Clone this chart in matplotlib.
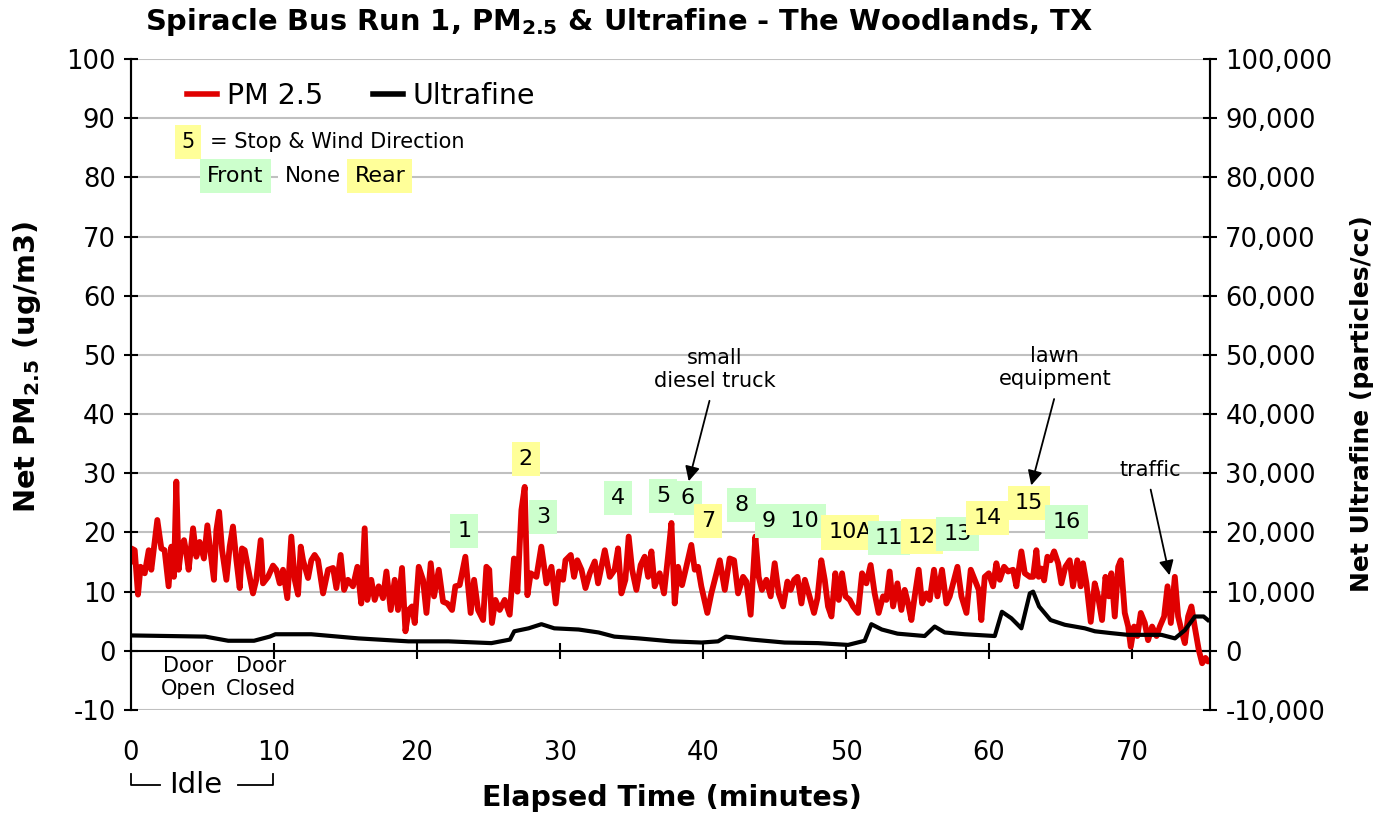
import matplotlib
matplotlib.use("Agg")
import matplotlib.pyplot as plt
from matplotlib.ticker import FuncFormatter
from matplotlib.lines import Line2D

plt.rcParams['font.family'] = ['DejaVu Sans']
plt.rcParams['mathtext.fontset'] = 'dejavusans'
plt.rcParams['axes.unicode_minus'] = False

# ---------------- data ----------------
pm_time = [0.0, 0.02, 0.26, 0.49, 0.67, 0.96, 1.24, 1.42, 1.84, 2.12, 2.35, 2.63, 2.82, 3.0, 3.17,
           3.33, 3.52, 3.71, 3.87, 4.03, 4.34, 4.57, 4.8, 5.1, 5.34, 5.57, 5.8, 5.97, 6.16, 6.37,
           6.67, 6.9, 7.13, 7.37, 7.6, 7.76, 7.95, 8.3, 8.53, 8.76, 9.07, 9.23, 9.58, 9.93, 10.16,
           10.4, 10.63, 10.93, 11.21, 11.45, 11.68, 11.87, 12.03, 12.38, 12.61, 12.84, 13.08, 13.43,
           13.78, 14.13, 14.36, 14.66, 14.9, 15.17, 15.52, 15.83, 16.1, 16.34, 16.52, 16.8, 17.04,
           17.32, 17.62, 17.86, 18.16, 18.44, 18.67, 18.95, 19.19, 19.42, 19.65, 19.84, 20.12, 20.42,
           20.66, 20.96, 21.19, 21.52, 21.82, 22.12, 22.45, 22.68, 22.98, 23.38, 23.75, 23.99, 24.27,
           24.62, 24.85, 25.05, 25.24, 25.48, 25.78, 26.13, 26.48, 26.78, 27.02, 27.3, 27.53, 27.72,
           27.95, 28.35, 28.69, 29.05, 29.4, 29.7, 29.93, 30.21, 30.38, 30.75, 30.98, 31.21, 31.5,
           31.78, 32.08, 32.43, 32.66, 33.13, 33.48, 33.82, 34.06, 34.29, 34.57, 34.8, 35.04, 35.34,
           35.64, 35.92, 36.16, 36.39, 36.62, 36.97, 37.27, 37.55, 37.79, 38.02, 38.25, 38.53, 38.83,
           39.18, 39.42, 39.65, 39.88, 40.3, 40.58, 40.82, 41.17, 41.52, 41.86, 42.17, 42.45, 42.8,
           43.03, 43.33, 43.66, 43.89, 44.12, 44.43, 44.73, 45.01, 45.29, 45.6, 45.9, 46.13, 46.37,
           46.6, 46.88, 47.12, 47.39, 47.76, 48.0, 48.27, 48.51, 48.74, 48.98, 49.25, 49.49, 49.72,
           49.96, 50.26, 50.49, 50.84, 51.12, 51.42, 51.72, 52.0, 52.28, 52.59, 52.82, 53.05, 53.29,
           53.59, 53.87, 54.1, 54.34, 54.57, 54.8, 55.08, 55.32, 55.62, 55.85, 56.15, 56.39, 56.71,
           57.02, 57.25, 57.55, 57.79, 58.07, 58.42, 58.72, 59.0, 59.28, 59.46, 59.7, 59.98, 60.28,
           60.51, 60.75, 61.05, 61.33, 61.68, 61.91, 62.26, 62.5, 62.85, 63.08, 63.31, 63.47, 63.66,
           63.85, 64.08, 64.31, 64.55, 64.83, 65.06, 65.34, 65.64, 65.87, 66.17, 66.41, 66.57, 66.81,
           67.11, 67.39, 67.62, 67.9, 68.14, 68.37, 68.55, 68.79, 69.03, 69.21, 69.49, 69.73, 69.91,
           70.14, 70.37, 70.61, 70.89, 71.12, 71.4, 71.71, 71.94, 72.24, 72.48, 72.71, 72.99, 73.22,
           73.5, 73.69, 73.92, 74.15, 74.38, 74.66, 74.9, 75.13, 75.31]
pm_value = [15.0, 17.3, 17.0, 9.5, 14.2, 13.1, 17.0, 13.7, 22.1, 17.3, 17.0, 10.9, 17.6, 12.5, 28.6,
            13.7, 17.6, 18.7, 16.5, 13.7, 20.7, 15.9, 18.4, 15.6, 21.2, 16.5, 12.0, 20.4, 23.5, 17.0,
            12.0, 17.6, 21.0, 15.3, 10.6, 17.3, 17.0, 12.5, 9.7, 12.0, 18.7, 11.4, 12.5, 14.4, 13.7,
            11.4, 13.7, 8.9, 19.3, 12.0, 9.5, 17.6, 15.3, 12.3, 15.3, 16.2, 15.3, 9.7,
            13.7, 14.0, 10.6, 16.2, 10.3, 12.0, 10.9, 14.2, 8.0, 20.7, 8.6, 12.0, 8.6,
            10.9, 8.9, 13.4, 6.9, 12.0, 6.9, 14.0, 3.3, 6.9, 7.5, 4.7, 14.2, 12.0,
            6.4, 14.8, 9.2, 13.7, 8.3, 8.0, 6.9, 10.9, 11.1, 15.9, 6.4, 12.0, 6.9,
            5.2, 14.2, 13.7, 4.7, 8.6, 6.9, 8.6, 6.1, 15.6, 10.0, 23.8, 27.7, 9.4,
            13.1, 12.5, 17.6, 11.4, 14.2, 8.0, 13.4, 12.0, 15.3, 16.2, 12.5, 15.3, 13.7,
            10.6, 13.1, 15.1, 11.4, 17.0, 12.5, 13.7, 17.3, 9.7, 12.0, 19.3, 13.7, 10.3,
            14.5, 15.9, 12.5, 16.8, 10.9, 13.1, 9.7, 15.9, 21.6, 8.0, 14.2, 11.1, 14.2,
            17.9, 13.7, 14.2, 10.9, 6.4, 9.7, 12.0, 15.3, 10.3, 15.6, 15.3, 9.7, 12.5,
            11.7, 6.1, 19.3, 12.5, 10.3, 12.0, 9.2, 14.8, 9.7, 7.5, 11.7, 10.3, 12.0,
            12.5, 8.0, 12.0, 9.7, 6.4, 8.9, 15.3, 12.0, 7.5, 5.8, 13.1, 8.6, 13.1,
            9.2, 8.6, 7.5, 6.4, 13.1, 11.4, 14.5, 9.7, 6.4, 9.2, 8.6, 13.4, 7.5,
            11.4, 6.9, 10.3, 8.0, 5.2, 9.2, 13.7, 8.0, 9.7, 8.6, 13.7, 9.2, 13.7,
            8.0, 9.2, 12.0, 14.2, 9.2, 6.4, 13.7, 12.0, 10.3, 5.2, 12.5, 13.1, 10.9,
            14.8, 12.0, 14.2, 13.4, 13.7, 10.9, 16.8, 13.1, 12.5, 12.5, 17.0, 12.5, 13.9,
            11.9, 15.9, 15.3, 16.8, 14.8, 11.4, 14.2, 15.3, 10.9, 15.3, 10.9, 14.8, 11.4,
            4.9, 11.4, 9.2, 5.2, 12.5, 9.2, 13.1, 5.8, 14.2, 15.3, 6.4, 4.1, 0.7,
            4.1, 2.5, 6.4, 4.7, 1.8, 4.1, 2.5, 4.1, 5.8, 10.9, 4.7, 12.5, 5.8,
            3.0, 1.3, 5.8, 7.5, 4.1, 0.2, -2.1, -1.2, -1.8]

uf_time = [0.0, 5.2, 6.8, 8.6, 9.7, 10.1, 12.6, 15.9, 19.4, 22.2, 25.2, 26.5, 26.8, 27.8, 28.7,
           29.6, 31.3, 32.7, 33.8, 35.5, 37.8, 39.9, 41.05, 41.6, 43.4, 45.7, 48.05, 50.14, 51.3,
           51.77, 52.5, 53.6, 55.5, 56.2, 56.9, 58.3, 60.4, 60.9, 61.56, 62.26, 62.85, 63.08, 63.5,
           64.3, 65.3, 66.7, 67.4, 68.5, 69.7, 72.05, 73.0, 73.7, 74.4, 75.0, 75.3]
uf_value = [2600, 2400, 1700, 1700, 2400, 2800, 2800, 2100, 1600, 1600, 1300, 1900, 3300, 3800, 4500,
            3800, 3600, 3100, 2400, 2100, 1600, 1400, 1600, 2400, 1900, 1400, 1300, 1000, 1700,
            4500, 3600, 2900, 2500, 4100, 3100, 2800, 2500, 6600, 5500, 3800, 9700, 10000, 7500,
            5200, 4400, 3800, 3300, 3000, 2700, 2700, 2100, 3500, 5800, 5800, 5200]

stop_labels = ['1', '2', '3', '4', '5', '6', '7', '8', '9  10', '10A', '11', '12', '13', '14', '15', '16']
stop_wind = ['F', 'R', 'F', 'F', 'F', 'F', 'R', 'F', 'F', 'R', 'F', 'R', 'F', 'R', 'R', 'F']
stop_time = [23.3, 27.6, 28.8, 34.06, 37.2, 38.95, 40.35, 42.7, 46.1, 50.3, 53.0, 55.3, 57.8, 59.9, 62.8, 65.4]
stop_level = [20.3, 32.4, 22.6, 25.8, 26.2, 25.8, 22.0, 24.7, 22.0, 20.0, 19.1, 19.3, 19.8, 22.5, 25.0, 21.8]

x_ticks = [0, 10, 20, 30, 40, 50, 60, 70]
y_ticks = [-10, 0, 10, 20, 30, 40, 50, 60, 70, 80, 90, 100]
y2_ticks = [-10000, 0, 10000, 20000, 30000, 40000, 50000, 60000, 70000, 80000, 90000, 100000]

# ---------------- style ----------------
RED = '#e00000'
GREEN = '#ccffcc'
YELLOW = '#ffff99'
GRID = '#c0c0c0'
W, H = 1382, 814

fig = plt.figure(figsize=(W / 100, H / 100), dpi=100)
ax = fig.add_axes([131 / W, 1 - 710 / H, (1210 - 131) / W, (710 - 59) / H])
ax2 = ax.twinx()

ax.plot(pm_time, pm_value, color=RED, lw=4.2, solid_joinstyle='round', solid_capstyle='round', zorder=3)
ax2.plot(uf_time, uf_value, color='black', lw=3.0, solid_joinstyle='round', zorder=3)

ax.set_xlim(0, 75.45)
ax.set_ylim(-10, 100)
ax2.set_ylim(-10000, 100000)

ax.set_yticks(y_ticks)
ax2.set_yticks(y2_ticks)
ax.set_xticks(x_ticks)
ax2.yaxis.set_major_formatter(FuncFormatter(lambda v, p: f"{int(v):,}"))

ax.yaxis.grid(True, color=GRID, lw=1.5)
ax.set_axisbelow(True)

for a in (ax, ax2):
    a.spines['top'].set_visible(False)
    a.spines['bottom'].set_visible(False)
    a.spines['left'].set_linewidth(1.5)
    a.spines['right'].set_linewidth(1.5)

ax.spines['bottom'].set_visible(True)
ax.spines['bottom'].set_position(('data', 0))
ax.spines['bottom'].set_linewidth(1.5)

TICK_FS = 18.5
ax.tick_params(axis='x', direction='inout', length=12, width=1.5, labelsize=TICK_FS, pad=58)
ax.tick_params(axis='y', direction='inout', length=10, width=1.5, labelsize=TICK_FS, pad=6)
ax2.tick_params(axis='y', direction='inout', length=10, width=1.5, labelsize=TICK_FS, pad=6)

# ---------------- texts ----------------
fig.text(619 / W, 1 - 22 / H,
         r'Spiracle Bus Run 1, PM$_{\mathbf{2.5}}$ & Ultrafine - The Woodlands, TX',
         ha='center', va='center', fontsize=20.8, fontweight='bold')
fig.text(27 / W, 1 - 367 / H, r'Net PM$_{\mathbf{2.5}}$ (ug/m3)', rotation=90,
         ha='center', va='center', fontsize=20.8, fontweight='bold')
fig.text(1362 / W, 1 - 404 / H, 'Net Ultrafine (particles/cc)', rotation=90,
         ha='center', va='center', fontsize=18, fontweight='bold')
fig.text(672 / W, 1 - 798 / H, 'Elapsed Time (minutes)',
         ha='center', va='center', fontsize=20.5, fontweight='bold')

# legend
handles = [Line2D([], [], color=RED, lw=4.0), Line2D([], [], color='black', lw=4.0)]
ax2.legend(handles, ['PM 2.5', 'Ultrafine'], loc='upper left', bbox_to_anchor=(0.028, 1.004),
           ncol=2, frameon=False, fontsize=20.5, handlelength=1.05, handletextpad=0.35,
           columnspacing=1.75)

# wind-direction key
def tag(x, y, s, fc, fs=15, ha='center'):
    ax.text(x, y, s, ha=ha, va='center', fontsize=fs, zorder=6,
            bbox=dict(boxstyle='square,pad=0.32', fc=fc, ec='none'))

tag(4.0, 86.0, '5', YELLOW, fs=15)
ax.text(5.5, 86.0, '= Stop & Wind Direction', ha='left', va='center', fontsize=15, zorder=6)
tag(7.3, 80.2, 'Front', GREEN, fs=16)
tag(12.7, 80.2, 'None', 'white', fs=15.5)
tag(17.4, 80.2, 'Rear', YELLOW, fs=16)

for lab, w, t, lv in zip(stop_labels, stop_wind, stop_time, stop_level):
    tag(t, lv, lab, GREEN if w == 'F' else YELLOW, fs=16)

# door texts
ax.text(4.0, -4.5, 'Door\nOpen', ha='center', va='center', fontsize=15, linespacing=1.15)
ax.text(9.1, -4.5, 'Door\nClosed', ha='center', va='center', fontsize=15, linespacing=1.15)

# event annotations
arrow = dict(arrowstyle='-|>', color='black', lw=1.3, mutation_scale=22)
ax.annotate('', xy=(38.95, 28.2), xytext=(40.5, 42.7), arrowprops=arrow, zorder=7)
ax.text(40.8, 47.5, 'small\ndiesel truck', ha='center', va='center', fontsize=15, linespacing=1.2)
ax.annotate('', xy=(62.9, 27.5), xytext=(64.6, 43.0), arrowprops=arrow, zorder=7)
ax.text(64.6, 47.9, 'lawn\nequipment', ha='center', va='center', fontsize=15, linespacing=1.2)
ax.annotate('', xy=(72.66, 12.3), xytext=(71.26, 27.7), arrowprops=arrow, zorder=7)
ax.text(71.3, 30.6, 'traffic', ha='center', va='center', fontsize=15)

# idle bracket below x tick labels
tr = ax.get_xaxis_transform()
yb = -0.115
yt = -0.099
ax.add_line(Line2D([0.0, 0.0, 2.0], [yt, yb, yb], transform=tr, color='black', lw=1.3, clip_on=False))
ax.add_line(Line2D([7.5, 9.9, 9.9], [yb, yb, yt], transform=tr, color='black', lw=1.3, clip_on=False))
ax.text(4.5, yb, 'Idle', transform=tr, ha='center', va='center', fontsize=21)

fig.savefig('out.png', dpi=100)
